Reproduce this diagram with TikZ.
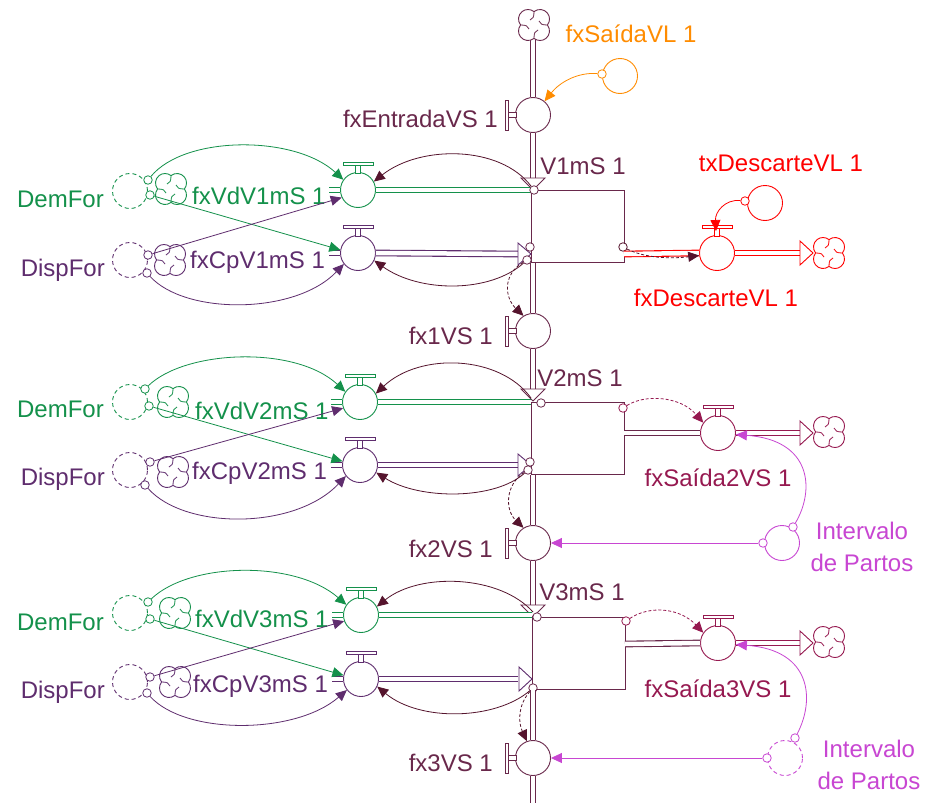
\documentclass[tikz,border=0pt]{standalone}
\usepackage{fontspec}
\setmainfont{Liberation Sans}
\usetikzlibrary{arrows.meta}
\definecolor{mar}{RGB}{105,40,75}
\definecolor{mardk}{RGB}{85,20,45}
\definecolor{crim}{RGB}{150,25,80}
\definecolor{grn}{RGB}{20,145,75}
\definecolor{pur}{RGB}{95,45,110}
\definecolor{mag}{RGB}{200,70,210}
\definecolor{org}{RGB}{255,140,0}
\definecolor{redA}{RGB}{255,0,0}
\tikzset{
  lbl/.style={font=\fontsize{24}{32}\selectfont, inner sep=0pt},
  pipe/.style={draw=#1, line width=1.1pt, double=white, double distance=4.5pt},
  valve/.style={circle, draw=#1, fill=white, minimum size=35pt, inner sep=0pt, line width=0.9pt},
  aux/.style={circle, draw=#1, minimum size=35pt, inner sep=0pt, line width=0.9pt},
  shadowaux/.style={circle, draw=#1, minimum size=35pt, inner sep=0pt, line width=0.9pt, dash pattern=on 4pt off 3pt},
  cloudn/.style={circle, minimum size=30pt, inner sep=0pt},
  lkdot/.style={circle, draw=#1, fill=white, minimum size=8.5pt, inner sep=0pt, line width=0.8pt},
  lnk/.style={draw=#1, line width=0.8pt, -{Triangle[length=11pt,width=10pt]}},
  dlnk/.style={draw=#1, line width=0.8pt, dash pattern=on 3pt off 2pt, -{Triangle[length=11pt,width=10pt]}},
  harrow/.style={draw=#1, fill=white, line width=0.9pt},
  stockbox/.style={draw=mar, line width=0.9pt, minimum width=93pt, minimum height=72pt, inner sep=0pt, anchor=north west},
  htop/.pic={\draw[line width=0.8pt,fill=white] (-15,-28) rectangle (15,-25);
             \draw[line width=0.8pt,fill=white] (-2.5,-25) rectangle (2.5,-17);},
  hleft/.pic={\draw[line width=0.8pt,fill=white] (-28,-15) rectangle (-25,15);
              \draw[line width=0.8pt,fill=white] (-25,-2.5) rectangle (-17,2.5);},
  vcloud/.pic={
    \draw[line width=0.9pt, fill=white] (13.37,0)
      arc[start angle=-39.2, end angle=129.2, radius=9.5]
      arc[start angle=50.8, end angle=219.2, radius=9.5]
      arc[start angle=140.8, end angle=309.2, radius=9.5]
      arc[start angle=230.8, end angle=399.2, radius=9.5] -- cycle;
    \foreach \r in {0,90,180,270}{
      \draw[line width=0.8pt, rotate=\r] (0,13.3) .. controls (0,8) and (1,6) .. (4,5);
    }
  }
}
\begin{document}
\begin{tikzpicture}[x=1pt,y=-1pt]
\fill[white] (0,0) rectangle (927,803);
\useasboundingbox (0,0) rectangle (927,803);

% ---------------- top inflow ----------------
\node[cloudn] (ct) at (534,25) {};
\node[valve=mar] (vE) at (533,115) {};
\pic[color=mar] at (vE) {hleft};
\draw[pipe=mar] (533,38) -- (vE.north);
\pic[color=mar] at (ct) {vcloud};
\coordinate (a1) at (533,190);
\draw[pipe=mar] (vE.south) -- (533,179);
\draw[harrow=mar] (a1) -- ++(-12,-12) -- ++(24,0) -- cycle;
\node[lbl, text=mar, anchor=base east] at (498,127) {fxEntradaVS 1};
\node[aux=org] (oa) at (620,76) {};
\node[lkdot=org] (oad) at (602,74) {};
\draw[lnk=org] (oad) .. controls (578,72) and (560,82) .. (vE.50);
\node[lbl, text=org, anchor=base] at (631,42) {fxSaídaVL 1};

% ---------------- stock V1 ----------------
\node[stockbox] (s1) at (531,190) {};
\node[lbl, text=mar, anchor=base] at (583,174) {V1mS 1};
\node[valve=grn] (g1) at (358,190) {};
\node[valve=pur] (p1) at (358,253) {};
\pic[color=grn] at (g1) {htop};
\pic[color=pur] at (p1) {htop};
\draw[pipe=grn] (g1.east) -- (531,190);
\draw[pipe=grn] (g1.west) -- ++(-11,0);
\draw[pipe=pur] (p1.west) -- ++(-11,0);
\draw[pipe=pur] (p1.east) -- (518,254);
\draw[harrow=pur] (531,254) -- ++(-13,-11) -- ++(0,22) -- cycle;
\node[shadowaux=grn] (dg1) at (130,191) {};
\node[shadowaux=pur] (dp1) at (130,260) {};
\node[cloudn] (cg1) at (171,189) {};
\node[cloudn] (cp1) at (170,260) {};
\pic[color=grn] at (cg1) {vcloud};
\pic[color=pur] at (cp1) {vcloud};
\node[lkdot=grn] (dg1a) at (148,180) {};
\node[lkdot=grn] (dg1b) at (150,195) {};
\node[lkdot=pur] (dp1a) at (148,255) {};
\node[lkdot=pur] (dp1b) at (147,273) {};
\node[lbl, text=grn, anchor=base east] at (104,207) {DemFor};
\node[lbl, text=pur, anchor=base east] at (105,276) {DispFor};
\node[lbl, text=grn, anchor=base west] at (192,204) {fxVdV1mS 1};
\node[lbl, text=pur, anchor=base west] at (190,268) {fxCpV1mS 1};
\draw[lnk=grn] (dg1a) .. controls (185,135) and (295,135) .. (g1.145);
\draw[lnk=grn] (dg1b) -- (p1.170);
\draw[lnk=pur] (dp1a) -- (g1.205);
\draw[lnk=pur] (dp1b) .. controls (185,315) and (295,315) .. (p1.218);
\node[lkdot=mar] (s1a) at (534,190) {};
\node[lkdot=mar] (s1b) at (530,247) {};
\node[lkdot=mar] (s1c) at (527,260) {};
\node[lkdot=mardk] (s1r) at (623,247) {};
\draw[lnk=mardk] (s1a) .. controls (500,145) and (420,145) .. (g1.28);
\draw[lnk=mardk] (s1c) .. controls (490,293) and (420,293) .. (p1.-25);

% fx1VS
\node[valve=mar] (vf1) at (533,331) {};
\pic[color=mar] at (vf1) {hleft};
\draw[pipe=mar] (533,263) -- (vf1.north);
\draw[dlnk=mardk] (s1c) .. controls (502,275) and (505,298) .. (vf1.122);
\node[lbl, text=mar, anchor=base east] at (493,344) {fx1VS 1};

% descarte
\node[valve=redA] (rv) at (717,253) {};
\pic[color=redA] at (rv) {htop};
\draw[pipe=redA] (624,254) -- (rv.west);
\draw[pipe=redA] (rv.east) -- (800,253);
\draw[harrow=redA] (813,253) -- ++(-13,-12) -- ++(0,24) -- cycle;
\node[cloudn] (cr) at (829,253) {};
\pic[color=redA] at (cr) {vcloud};
\node[aux=redA] (tx) at (765,203) {};
\node[lkdot=redA] (txd) at (745,201) {};
\coordinate (rvh) at (716,231);
\draw[lnk=redA] (txd) .. controls (725,199) and (715,212) .. (rvh);
\draw[dlnk=mardk] (s1r) .. controls (645,258) and (670,259) .. (rv.188);
\node[lbl, text=redA, anchor=base] at (781,171) {txDescarteVL 1};
\node[lbl, text=redA, anchor=base] at (716,306) {fxDescarteVL 1};

% ---------------- stock V2 ----------------
\draw[pipe=mar] (vf1.south) -- (533,389);
\draw[harrow=mar] (533,401) -- ++(-12,-12) -- ++(24,0) -- cycle;
\node[stockbox] (s2) at (531,402) {};
\node[lbl, text=mar, anchor=base] at (580,386) {V2mS 1};
\node[valve=grn] (g2) at (360,402) {};
\node[valve=pur] (p2) at (360,465) {};
\pic[color=grn] at (g2) {htop};
\pic[color=pur] at (p2) {htop};
\draw[pipe=grn] (g2.east) -- (531,402);
\draw[pipe=grn] (g2.west) -- ++(-11,0);
\draw[pipe=pur] (p2.west) -- ++(-11,0);
\draw[pipe=pur] (p2.east) -- (518,465);
\draw[harrow=pur] (531,465) -- ++(-13,-11) -- ++(0,22) -- cycle;
\node[shadowaux=grn] (dg2) at (130,402) {};
\node[shadowaux=pur] (dp2) at (130,470) {};
\node[cloudn] (cg2) at (173,402) {};
\node[cloudn] (cp2) at (173,472) {};
\pic[color=grn] at (cg2) {vcloud};
\pic[color=pur] at (cp2) {vcloud};
\node[lkdot=grn] (dg2a) at (145,389) {};
\node[lkdot=grn] (dg2b) at (149,406) {};
\node[lkdot=pur] (dp2a) at (150,462) {};
\node[lkdot=pur] (dp2b) at (145,485) {};
\node[lbl, text=grn, anchor=base east] at (104,417) {DemFor};
\node[lbl, text=pur, anchor=base east] at (105,485) {DispFor};
\node[lbl, text=grn, anchor=base west] at (195,419) {fxVdV2mS 1};
\node[lbl, text=pur, anchor=base west] at (192,479) {fxCpV2mS 1};
\draw[lnk=grn] (dg2a) .. controls (185,350) and (295,345) .. (g2.145);
\draw[lnk=grn] (dg2b) -- (p2.168);
\draw[lnk=pur] (dp2a) -- (g2.200);
\draw[lnk=pur] (dp2b) .. controls (185,530) and (295,530) .. (p2.218);
\node[lkdot=mar] (s2a) at (541,403) {};
\node[lkdot=mar] (s2b) at (530,462) {};
\node[lkdot=mar] (s2c) at (528,470) {};
\node[lkdot=crim] (s2r) at (623,408) {};
\draw[lnk=mardk] (531,398) .. controls (500,355) and (420,352) .. (g2.28);
\draw[lnk=mardk] (s2c) .. controls (495,500) and (420,500) .. (p2.-25);

% fx2VS
\node[valve=mar] (vf2) at (533,543) {};
\pic[color=mar] at (vf2) {hleft};
\draw[pipe=mar] (533,475) -- (vf2.north);
\draw[dlnk=mardk] (s2c) .. controls (505,485) and (505,510) .. (vf2.122);
\node[lbl, text=mar, anchor=base east] at (493,557) {fx2VS 1};

% saida 2
\node[valve=crim] (o2) at (718,433) {};
\pic[color=crim] at (o2) {htop};
\draw[pipe=mar] (624,433) -- (o2.west);
\draw[pipe=crim] (o2.east) -- (800,433);
\draw[harrow=crim] (813,433) -- ++(-13,-12) -- ++(0,24) -- cycle;
\node[cloudn] (co2) at (829,432) {};
\pic[color=crim] at (co2) {vcloud};
\draw[dlnk=crim] (s2r) .. controls (645,394) and (680,396) .. (o2.145);
\node[lbl, text=crim, anchor=base] at (718,486) {fxSaída2VS 1};
\node[aux=mag] (i2) at (782,543) {};
\node[lkdot=mag] (i2a) at (763,543) {};
\node[lkdot=mag] (i2b) at (793,527) {};
\draw[lnk=mag] (i2a) -- (vf2.east);
\draw[lnk=mag] (i2b) .. controls (815,490) and (812,440) .. (o2.-5);
\node[lbl, text=mag, align=center] at (862,547) {Intervalo\\de Partos};

% ---------------- stock V3 ----------------
\draw[pipe=mar] (vf2.south) -- (533,605);
\draw[harrow=mar] (533,617) -- ++(-12,-12) -- ++(24,0) -- cycle;
\node[stockbox] (s3) at (532,617) {};
\node[lbl, text=mar, anchor=base] at (582,600) {V3mS 1};
\node[valve=grn] (g3) at (361,615) {};
\node[valve=pur] (p3) at (361,679) {};
\pic[color=grn] at (g3) {htop};
\pic[color=pur] at (p3) {htop};
\draw[pipe=grn] (g3.east) -- (532,615);
\draw[pipe=grn] (g3.west) -- ++(-11,0);
\draw[pipe=pur] (p3.west) -- ++(-11,0);
\draw[pipe=pur] (p3.east) -- (518,679);
\draw[harrow=pur] (532,679) -- ++(-13,-12) -- ++(0,24) -- cycle;
\node[shadowaux=grn] (dg3) at (130,613) {};
\node[shadowaux=pur] (dp3) at (130,682) {};
\node[cloudn] (cg3) at (175,613) {};
\node[cloudn] (cp3) at (175,682) {};
\pic[color=grn] at (cg3) {vcloud};
\pic[color=pur] at (cp3) {vcloud};
\node[lkdot=grn] (dg3a) at (148,602) {};
\node[lkdot=grn] (dg3b) at (150,619) {};
\node[lkdot=pur] (dp3a) at (150,677) {};
\node[lkdot=pur] (dp3b) at (147,693) {};
\node[lbl, text=grn, anchor=base east] at (104,630) {DemFor};
\node[lbl, text=pur, anchor=base east] at (105,698) {DispFor};
\node[lbl, text=grn, anchor=base west] at (195,627) {fxVdV3mS 1};
\node[lbl, text=pur, anchor=base west] at (193,692) {fxCpV3mS 1};
\draw[lnk=grn] (dg3a) .. controls (190,562) and (295,560) .. (g3.145);
\draw[lnk=grn] (dg3b) -- (p3.168);
\draw[lnk=pur] (dp3a) -- (g3.200);
\draw[lnk=pur] (dp3b) .. controls (185,735) and (295,735) .. (p3.218);
\node[lkdot=mar] (s3a) at (537,617) {};
\node[lkdot=mar] (s3c) at (533,688) {};
\node[lkdot=crim] (s3r) at (626,621) {};
\draw[lnk=mardk] (533,612) .. controls (500,575) and (420,572) .. (g3.28);
\draw[lnk=mardk] (s3c) .. controls (495,720) and (420,722) .. (p3.-25);

% fx3VS
\node[valve=mar] (vf3) at (533,758) {};
\pic[color=mar] at (vf3) {hleft};
\draw[pipe=mar] (533,690) -- (vf3.north);
\draw[pipe=mar] (vf3.south) -- (533,805);
\draw[dlnk=mardk] (s3c) .. controls (518,705) and (518,722) .. (vf3.110);
\node[lbl, text=mar, anchor=base east] at (493,771) {fx3VS 1};

% saida 3
\node[valve=crim] (o3) at (718,643) {};
\pic[color=crim] at (o3) {htop};
\draw[pipe=mar] (625,644) -- (o3.west);
\draw[pipe=crim] (o3.east) -- (800,643);
\draw[harrow=crim] (813,643) -- ++(-13,-12) -- ++(0,24) -- cycle;
\node[cloudn] (co3) at (829,642) {};
\pic[color=crim] at (co3) {vcloud};
\draw[dlnk=crim] (s3r) .. controls (650,605) and (680,608) .. (o3.145);
\node[lbl, text=crim, anchor=base] at (718,697) {fxSaída3VS 1};
\node[shadowaux=mag] (i3) at (785,758) {};
\node[lkdot=mag] (i3a) at (767,758) {};
\node[lkdot=mag] (i3b) at (795,738) {};
\draw[lnk=mag] (i3a) -- (vf3.east);
\draw[lnk=mag] (i3b) .. controls (815,700) and (812,650) .. (o3.-5);
\node[lbl, text=mag, align=center] at (869,765) {Intervalo\\de Partos};
\end{tikzpicture}
\end{document}
